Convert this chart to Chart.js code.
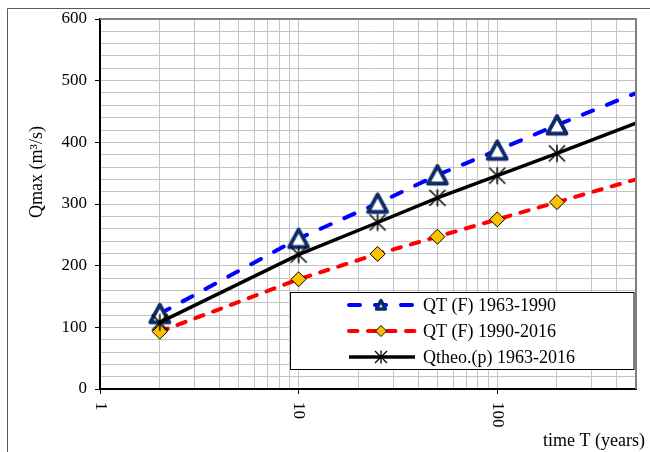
<!DOCTYPE html>
<html><head><meta charset="utf-8">
<script src="https://cdn.jsdelivr.net/npm/chart.js@4.4.0/dist/chart.umd.min.js"></script>
<style>html,body{margin:0;padding:0;background:#fff;} #wrap{width:650px;height:452px;}</style>
</head><body><div id="wrap"><canvas id="c" width="650" height="452"></canvas></div>
<script>
// ---- data ----
const returnPeriods = [2, 10, 25, 50, 100, 200, 500];
const qtF_1963_1990 = [122, 244, 301, 347, 387, 428, 480];
const qtF_1990_2016 = [93, 178, 219, 247, 275, 303, 340];
const qTheo_1963_2016 = [108, 218, 270, 310, 346, 382, 431];
const seriesNames = ['QT (F) 1963-1990', 'QT (F) 1990-2016', 'Qtheo.(p) 1963-2016'];
const xTickValues = [1, 10, 100];
const xTickLabels = ['1', '10', '100'];
const xGridValues = [1,2,3,4,5,6,7,8,9,10,20,30,40,50,60,70,80,90,100,200,300,400,500];
const yMajorStep = 100;
const yMinorStep = 20;
const xTitle = 'time T (years)';
const yTitle = 'Qmax (m³/s)';

const FONT = "'Liberation Serif', 'Times New Roman', serif";
const NAVY = '#0D2B6B';
const lastIdx = returnPeriods.length - 1;

function pts(vals) { return returnPeriods.map((t, i) => ({ x: t, y: vals[i] })); }

// marker images
function triangleCanvas(scale) {
  const s = Math.round(26 * scale);
  const c = document.createElement('canvas'); c.width = s; c.height = s;
  const g = c.getContext('2d');
  const m = s / 2;
  g.beginPath();
  g.moveTo(m, m - 9 * scale);
  g.lineTo(m + 9.5 * scale, m + 8.5 * scale);
  g.lineTo(m - 9.5 * scale, m + 8.5 * scale);
  g.closePath();
  g.fillStyle = '#fff'; g.fill();
  g.lineWidth = 3.8 * scale; g.lineJoin = 'round'; g.strokeStyle = NAVY; g.stroke();
  return c;
}
function starCanvas(scale) {
  const s = Math.round(20 * scale);
  const c = document.createElement('canvas'); c.width = s; c.height = s;
  const g = c.getContext('2d');
  const m = s / 2, a = 8 * scale, b = 8.5 * scale;
  g.strokeStyle = '#000'; g.lineWidth = 1.5;
  g.beginPath();
  g.moveTo(m - a, m - a); g.lineTo(m + a, m + a);
  g.moveTo(m + a, m - a); g.lineTo(m - a, m + a);
  g.moveTo(m, m - b); g.lineTo(m, m + b);
  g.stroke();
  return c;
}
const triImg = triangleCanvas(1);
const starImg = starCanvas(1);

const datasets = [
  {
    label: seriesNames[0], data: pts(qtF_1963_1990), order: 3,
    borderColor: '#0000FF', borderWidth: 4, borderDash: [11, 15], borderCapStyle: 'round',
    pointStyle: ctx => ctx.dataIndex === lastIdx ? 'circle' : triImg,
    pointRadius: ctx => ctx.dataIndex === lastIdx ? 0 : 10,
    backgroundColor: '#fff', tension: 0
  },
  {
    label: seriesNames[1], data: pts(qtF_1990_2016), order: 2,
    borderColor: '#FF0000', borderWidth: 4, borderDash: [8.5, 10.5], borderCapStyle: 'round',
    pointStyle: 'rectRot',
    pointRadius: ctx => ctx.dataIndex === lastIdx ? 0 : 7.5,
    pointBackgroundColor: '#FFC000', pointBorderColor: '#000', pointBorderWidth: 1,
    backgroundColor: '#FFC000', tension: 0
  },
  {
    label: seriesNames[2], data: pts(qTheo_1963_2016), order: 1,
    borderColor: '#000000', borderWidth: 3.5,
    pointStyle: ctx => ctx.dataIndex === lastIdx ? 'circle' : starImg,
    pointRadius: ctx => ctx.dataIndex === lastIdx ? 0 : 9,
    backgroundColor: '#000', tension: 0
  }
];

const decorPlugin = {
  id: 'decor',
  beforeDraw(chart) {
    const ctx = chart.ctx;
    ctx.save();
    ctx.fillStyle = '#fff';
    ctx.fillRect(0, 0, chart.width, chart.height);
    ctx.strokeStyle = '#595959'; ctx.lineWidth = 1;
    ctx.beginPath();
    ctx.moveTo(7.5, chart.height + 5); ctx.lineTo(7.5, 8.5); ctx.lineTo(chart.width + 5, 8.5);
    ctx.stroke();
    ctx.restore();
  },
  afterDraw(chart) {
    const ctx = chart.ctx;
    const a = chart.chartArea;
    const xs = chart.scales.x;
    ctx.save();
    // plot area border (top / right)
    ctx.strokeStyle = '#808080'; ctx.lineWidth = 2;
    ctx.beginPath();
    ctx.moveTo(a.left, a.top); ctx.lineTo(a.right, a.top); ctx.lineTo(a.right, a.bottom);
    ctx.stroke();

    // x tick labels rotated clockwise
    ctx.fillStyle = '#000';
    ctx.font = '17px ' + FONT;
    xTickValues.forEach((v, i) => {
      const px = xs.getPixelForValue(v);
      ctx.save();
      ctx.translate(px, a.bottom + 13);
      ctx.rotate(Math.PI / 2);
      ctx.textAlign = 'left'; ctx.textBaseline = 'middle';
      ctx.fillText(xTickLabels[i], 0, 0);
      ctx.restore();
    });

    // axis titles
    ctx.font = '18px ' + FONT;
    ctx.textAlign = 'right'; ctx.textBaseline = 'alphabetic';
    ctx.fillText(xTitle, 645, 446);
    ctx.save();
    ctx.translate(42, 172);
    ctx.rotate(-Math.PI / 2);
    ctx.textAlign = 'center'; ctx.textBaseline = 'alphabetic';
    ctx.fillText(yTitle, 0, 0);
    ctx.restore();

    // legend
    const bx = 290.5, by = 292.5, bw = 343.5, bh = 77;
    ctx.fillStyle = '#fff';
    ctx.fillRect(bx, by, bw, bh);
    ctx.strokeStyle = '#000'; ctx.lineWidth = 1;
    ctx.strokeRect(bx, by, bw, bh);
    const rows = [305, 331, 357];
    chart.data.datasets.forEach((ds, i) => {
      const y = rows[i];
      ctx.save();
      ctx.strokeStyle = ds.borderColor;
      ctx.lineWidth = ds.borderWidth;
      ctx.lineCap = ds.borderCapStyle || 'butt';
      ctx.setLineDash(ds.borderDash || []);
      ctx.beginPath();
      ctx.moveTo(349, y); ctx.lineTo(415, y);
      ctx.stroke();
      ctx.restore();
      const mx = 381;
      ctx.save();
      if (i === 0) {
        ctx.beginPath();
        ctx.moveTo(mx, y - 4.5); ctx.lineTo(mx + 4.5, y + 4); ctx.lineTo(mx - 4.5, y + 4); ctx.closePath();
        ctx.fillStyle = '#fff'; ctx.fill();
        ctx.strokeStyle = NAVY; ctx.lineWidth = 3.5; ctx.lineJoin = 'round'; ctx.stroke();
      } else if (i === 1) {
        ctx.beginPath();
        ctx.moveTo(mx, y - 5.5); ctx.lineTo(mx + 5.5, y); ctx.lineTo(mx, y + 5.5); ctx.lineTo(mx - 5.5, y); ctx.closePath();
        ctx.fillStyle = '#FFC000'; ctx.fill();
        ctx.strokeStyle = '#000'; ctx.lineWidth = 1; ctx.stroke();
      } else {
        ctx.strokeStyle = '#000'; ctx.lineWidth = 1.3;
        ctx.beginPath();
        ctx.moveTo(mx - 6, y - 6); ctx.lineTo(mx + 6, y + 6);
        ctx.moveTo(mx + 6, y - 6); ctx.lineTo(mx - 6, y + 6);
        ctx.moveTo(mx, y - 6.5); ctx.lineTo(mx, y + 6.5);
        ctx.stroke();
      }
      ctx.restore();
      ctx.fillStyle = '#000';
      ctx.font = '18px ' + FONT;
      ctx.textAlign = 'left'; ctx.textBaseline = 'middle';
      ctx.fillText(ds.label, 423, y + 1);
    });
    ctx.restore();
  }
};

new Chart(document.getElementById('c'), {
  type: 'line',
  data: { datasets },
  plugins: [decorPlugin],
  options: {
    responsive: false,
    animation: false,
    events: [],
    layout: { padding: { top: 19, right: 13, left: 0, bottom: 0 } },
    plugins: { legend: { display: false }, tooltip: { enabled: false } },
    scales: {
      x: {
        type: 'logarithmic', min: 1, max: 500,
        afterBuildTicks: s => { s.ticks = xGridValues.map(v => ({ value: v })); },
        afterFit: s => { s.height = 63; },
        ticks: { autoSkip: false, maxRotation: 0, minRotation: 0, callback: () => '', font: { family: FONT, size: 17 } },
        grid: {
          color: '#c4c4c4', lineWidth: 1, tickLength: 5,
          tickColor: ctx => xTickValues.includes(ctx.tick && ctx.tick.value) ? '#000' : 'rgba(0,0,0,0)'
        },
        border: { color: '#000', width: 2 }
      },
      y: {
        type: 'linear', min: 0, max: 600,
        afterFit: s => { s.width = 100; },
        ticks: {
          stepSize: yMinorStep, autoSkip: false, padding: 8, color: '#000',
          font: { family: FONT, size: 17 },
          callback: v => (v % yMajorStep === 0 ? String(v) : '')
        },
        grid: {
          color: '#c4c4c4', lineWidth: 1, tickLength: 5,
          tickColor: ctx => (ctx.tick && ctx.tick.value % yMajorStep === 0) ? '#000' : 'rgba(0,0,0,0)'
        },
        border: { color: '#000', width: 2 }
      }
    }
  }
});
</script>
</body></html>
